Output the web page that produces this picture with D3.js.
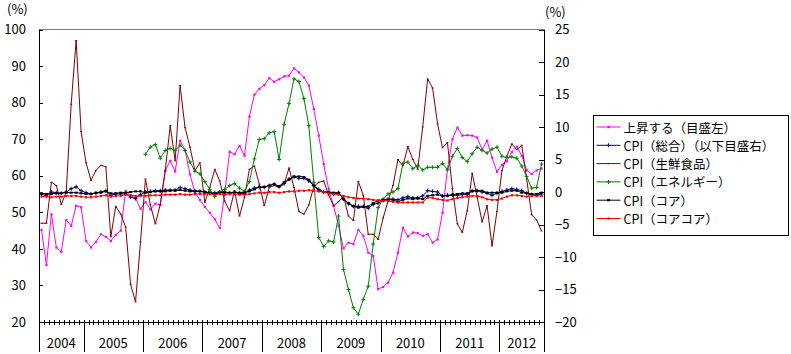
<!DOCTYPE html>
<html>
<head>
<meta charset="utf-8">
<script src="https://cdn.jsdelivr.net/npm/d3@7"></script>
<style>
  body { margin: 0; background: #fff; }
  text { font-family: "Noto Sans CJK JP", "Noto Sans", sans-serif; fill: #000; }
</style>
</head>
<body>
<div id="chart"></div>
<script>
// months: Apr 2004 .. Sep 2012
const months = d3.timeMonth.range(new Date(2004, 3, 1), new Date(2012, 9, 1));
const years = ["2004", "2005", "2006", "2007", "2008", "2009", "2010", "2011", "2012"];
const leftTicks = [20, 30, 40, 50, 60, 70, 80, 90, 100];
const rightTicks = [-20, -15, -10, -5, 0, 5, 10, 15, 20, 25];

// 上昇する (left axis, %)
const rising = [
  45.2, 35.6, 49.5, 40.4, 39.2, 47.9, 46.3, 51.8, 51.4,
  42.2, 40.4, 41.9, 44.0, 43.3, 42.2, 43.8, 45.0, 55.9, 54.7, 53.8, 51.0,
  52.8, 50.8, 52.4, 52.0, 61.4, 64.1, 61.2, 69.6, 67.0, 60.4, 55.4, 53.4,
  51.5, 49.9, 48.1, 45.7, 55.0, 66.6, 65.9, 68.2, 65.5, 76.2, 82.2, 83.8,
  84.8, 86.7, 85.7, 86.4, 87.2, 87.4, 89.4, 88.3, 86.9, 84.7, 78.3, 71.0,
  63.2, 56.4, 51.8, 46.3, 40.1, 41.7, 41.3, 45.2, 43.6, 39.0, 38.1, 29.0,
  29.6, 30.8, 33.5, 39.0, 45.8, 43.4, 44.5, 44.3, 43.6, 44.0, 41.7, 42.6,
  49.9, 61.8, 70.0, 73.2, 71.0, 71.1, 71.0, 70.5, 67.1, 69.6, 65.0, 61.1,
  63.0, 64.0, 66.5, 68.0, 65.5, 61.5, 60.5, 61.5, 62.0
];
// CPI 総合 (right axis)
const cpiAll = [
  -0.4, -0.5, 0.0, -0.1, -0.2, 0.0, 0.5, 0.8, 0.2,
  -0.1, -0.3, -0.2, 0.0, 0.2, -0.5, -0.3, -0.3, -0.3, -0.8, -1.0, -0.4,
  0.0, 0.1, 0.2, 0.2, 0.3, 0.3, 0.3, 0.7, 0.5, 0.3, 0.2, 0.1,
  0.0, -0.2, -0.1, 0.0, 0.0, -0.2, 0.0, -0.2, -0.2, 0.3, 0.6, 0.7,
  0.7, 1.0, 1.2, 0.8, 1.3, 2.0, 2.3, 2.1, 2.1, 1.7, 1.0, 0.4,
  0.0, -0.1, -0.3, -0.1, -1.1, -1.8, -2.2, -2.2, -2.2, -2.5, -1.9, -1.7,
  -1.3, -1.1, -1.1, -1.2, -0.9, -0.7, -0.9, -0.9, -0.6, 0.2, 0.1, 0.0,
  -0.6, -0.5, -0.5, -0.5, -0.4, -0.4, 0.2, 0.2, 0.0, -0.2, -0.5, -0.2,
  0.1, 0.3, 0.5, 0.4, 0.2, -0.2, -0.4, -0.5, -0.3
];
// CPI 生鮮食品
const cpiFresh = [
  -4.8, -4.8, 1.5, 1.0, -1.9, 0.0, 13.5, 23.3, 9.3,
  4.5, 1.8, 3.3, 4.1, 3.9, -6.9, -2.2, -3.4, -5.4, -14.2, -16.9, -7.7,
  2.0, -2.0, -4.9, -1.9, 3.3, 10.2, 4.8, 16.4, 9.9, 6.9, 3.3, 4.5,
  -1.6, 0.7, 3.5, 1.7, -1.4, -2.9, 0.2, -3.7, -0.8, 3.5, 4.0, 1.2,
  -2.1, 0.7, 1.0, 0.7, 1.2, 3.7, 0.7, -3.0, -3.4, -2.0, 0.8, 1.5,
  1.7, -0.5, -2.1, -1.5, -0.6, -3.7, -4.4, 1.6, -0.5, -6.5, -6.5, -7.3,
  -4.0, -1.4, 1.0, 5.0, 4.0, 7.0, 5.0, 3.5, 10.0, 17.4, 16.0, 10.5,
  6.8, 7.6, 0.5, -4.9, -6.2, -2.9, 2.9, -0.8, -4.6, -2.1, -8.3, -3.0,
  3.3, 5.5, 7.4, 6.5, 7.2, 2.0, -3.5, -4.3, -6.0
];
// CPI エネルギー (from Jan 2006)
const cpiEnergy = [
  null, null, null, null, null, null, null, null, null,
  null, null, null, null, null, null, null, null, null, null, null, null,
  5.8, 6.9, 7.3, 5.2, 6.4, 6.7, 6.4, 7.2, 6.4, 4.6, 3.2, 2.8,
  1.6, 0.4, -0.7, 0.0, 0.4, 1.0, 1.3, 0.6, 0.1, 1.6, 5.1, 8.1,
  8.2, 9.1, 9.3, 5.0, 10.4, 13.6, 17.4, 17.0, 14.4, 10.2, 1.5, -7.0,
  -8.4, -7.5, -7.7, -3.7, -11.9, -15.0, -17.8, -18.8, -16.5, -14.5, -8.0, -2.4,
  -1.1, -0.3, 0.0, 0.5, 4.4, 4.6, 3.6, 4.1, 3.4, 3.8, 3.8, 3.8,
  4.4, 3.4, 5.5, 6.7, 5.3, 4.7, 5.9, 6.9, 6.4, 6.0, 6.6, 6.9,
  5.5, 5.3, 5.4, 5.2, 4.0, 2.4, 0.6, 0.7, 4.3
];
// CPI コア
const cpiCore = [
  -0.2, -0.3, -0.3, -0.2, -0.2, -0.1, -0.1, -0.1, -0.2,
  -0.3, -0.3, -0.1, -0.1, 0.1, -0.2, -0.2, -0.1, -0.1, 0.0, 0.1, 0.1,
  -0.1, 0.0, 0.1, 0.1, 0.1, 0.2, 0.2, 0.3, 0.2, 0.1, 0.1, 0.1,
  0.0, -0.1, -0.3, -0.1, -0.1, -0.1, -0.1, -0.1, -0.1, 0.1, 0.4, 0.8,
  0.8, 1.0, 1.2, 0.9, 1.5, 1.9, 2.4, 2.4, 2.3, 1.9, 1.0, 0.2,
  0.0, 0.0, -0.1, -0.1, -1.1, -1.7, -2.2, -2.4, -2.3, -2.2, -1.7, -1.3,
  -1.2, -1.2, -1.2, -1.5, -1.2, -1.0, -1.1, -1.0, -1.1, -0.6, -0.5, -0.4,
  -0.6, -0.6, -0.4, -0.3, -0.2, -0.2, 0.1, 0.2, 0.2, -0.1, -0.1, -0.1,
  -0.1, 0.1, 0.2, 0.2, -0.1, -0.2, -0.3, -0.3, -0.1
];
// CPI コアコア
const cpiCoreCore = [
  -0.7, -0.7, -0.8, -0.7, -0.7, -0.6, -0.6, -0.6, -0.7,
  -0.8, -0.8, -0.7, -0.6, -0.5, -0.7, -0.6, -0.6, -0.4, -0.5, -0.6, -0.6,
  -0.6, -0.5, -0.5, -0.5, -0.4, -0.4, -0.4, -0.3, -0.4, -0.4, -0.3, -0.3,
  -0.3, -0.3, -0.4, -0.3, -0.4, -0.3, -0.3, -0.4, -0.4, -0.3, -0.2, -0.1,
  -0.1, 0.0, 0.0, -0.1, 0.0, 0.1, 0.1, 0.2, 0.2, 0.3, 0.2, 0.1,
  0.0, -0.2, -0.3, -0.4, -0.6, -0.8, -0.9, -1.0, -1.0, -1.1, -1.2, -1.3,
  -1.35, -1.4, -1.5, -1.6, -1.6, -1.6, -1.6, -1.6, -1.6, -0.85, -0.9, -1.1,
  -1.2, -1.3, -1.1, -0.9, -0.8, -0.7, -0.6, -0.6, -0.8, -1.1, -1.2, -1.2,
  -1.0, -0.7, -0.5, -0.5, -0.6, -0.7, -0.6, -0.6, -0.6
];

const labels = ["上昇する（目盛左）", "CPI（総合）（以下目盛右）", "CPI（生鮮食品）",
                "CPI（エネルギー）", "CPI（コア）", "CPI（コアコア）"];
const colors = ["#ff00ff", "#000080", "#800000", "#008000", "#000000", "#ff0000"];
const markers = ["square", "plus", "dot", "plus", "dash", "square"];

const series = [
  { values: rising, axis: "left" },
  { values: cpiAll, axis: "right" },
  { values: cpiFresh, axis: "right" },
  { values: cpiEnergy, axis: "right" },
  { values: cpiCore, axis: "right" },
  { values: cpiCoreCore, axis: "right" }
];

let svg = d3.select("#chart")
  .append("svg")
  .attr("width", 791)
  .attr("height", 354);

const plotLeft = 39, plotRight = 544, plotTop = 29.5, plotBottom = 322;

const x = d3.scaleBand()
  .domain(d3.range(months.length))
  .range([plotLeft, plotRight])
  .paddingInner(0).paddingOuter(0);
const xc = i => x(i) + x.bandwidth() / 2;

const yL = d3.scaleLinear().domain([20, 100]).range([plotBottom, plotTop]);
const yR = d3.scaleLinear().domain([-20, 25]).range([plotBottom, plotTop]);

// top frame line
svg.append("line")
  .attr("x1", plotLeft).attr("x2", plotRight)
  .attr("y1", plotTop).attr("y2", plotTop)
  .attr("stroke", "#808080")
  .attr("shape-rendering", "crispEdges");

// left axis
svg.append("g")
  .attr("transform", "translate(" + plotLeft + ",0)")
  .call(d3.axisLeft(yL).tickValues(leftTicks).tickSizeInner(-4).tickSizeOuter(0).tickPadding(13))
  .call(g => g.select(".domain").remove())
  .call(g => g.selectAll(".tick line").attr("stroke", "#000").attr("shape-rendering", "crispEdges"))
  .call(g => g.selectAll(".tick text").style("font-size", "13px")
    .style("font-family", "'Noto Sans CJK JP', sans-serif"));

// right axis
svg.append("g")
  .attr("transform", "translate(" + plotRight + ",0)")
  .call(d3.axisRight(yR).tickValues(rightTicks).tickSizeInner(-5).tickSizeOuter(0).tickPadding(11))
  .call(g => g.select(".domain").remove())
  .call(g => g.selectAll(".tick line").attr("stroke", "#000").attr("shape-rendering", "crispEdges"))
  .call(g => g.selectAll(".tick text").style("font-size", "13px")
    .style("font-family", "'Noto Sans CJK JP', sans-serif"));

// vertical axis lines, the left one running down through the year band
svg.append("line")
  .attr("x1", plotLeft + 0.5).attr("x2", plotLeft + 0.5)
  .attr("y1", plotTop).attr("y2", 352)
  .attr("stroke", "#000");
svg.append("line")
  .attr("x1", plotRight + 0.5).attr("x2", plotRight + 0.5)
  .attr("y1", plotTop).attr("y2", plotBottom)
  .attr("stroke", "#000");

// units
svg.append("text").attr("x", 7).attr("y", 14).style("font-size", "13px").text("(%)");
svg.append("text").attr("x", 545).attr("y", 17).style("font-size", "13px").text("(%)");

// category axis
svg.append("line")
  .attr("x1", plotLeft).attr("x2", plotRight)
  .attr("y1", plotBottom + 0.5).attr("y2", plotBottom + 0.5)
  .attr("stroke", "#000");

const edges = d3.range(months.length + 1);
const xEdge = i => i < months.length ? x(i) : plotRight;
svg.append("g")
  .selectAll("line")
  .data(edges)
  .join("line")
  .attr("x1", d => Math.round(xEdge(d)) + 0.5)
  .attr("x2", d => Math.round(xEdge(d)) + 0.5)
  .attr("y1", plotBottom - 2)
  .attr("y2", plotBottom + 3)
  .attr("stroke", "#000");

// year separators and labels
const yearStart = years.map(yr => months.findIndex(m => m.getFullYear() === +yr));
const yearEnd = yearStart.map((s, k) => k < yearStart.length - 1 ? yearStart[k + 1] : months.length);

svg.append("g")
  .selectAll("line")
  .data(yearStart.slice(1).concat([months.length]))
  .join("line")
  .attr("x1", d => Math.round(xEdge(d)) + 0.5)
  .attr("x2", d => Math.round(xEdge(d)) + 0.5)
  .attr("y1", plotBottom)
  .attr("y2", 352)
  .attr("stroke", "#000");

svg.append("g")
  .selectAll("text")
  .data(years)
  .join("text")
  .attr("x", (d, k) => (xEdge(yearStart[k]) + xEdge(yearEnd[k])) / 2)
  .attr("y", 348)
  .attr("text-anchor", "middle")
  .style("font-size", "13px")
  .text(d => d);

// marker drawing
function drawMarker(g, type, color) {
  if (type === "square") {
    g.append("rect").attr("x", -1).attr("y", -1).attr("width", 2.2).attr("height", 2.2).attr("fill", color);
  } else if (type === "plus") {
    g.append("path").attr("d", "M-2,0H2M0,-2V2").attr("stroke", color).attr("stroke-width", 1);
  } else if (type === "dash") {
    g.append("rect").attr("x", -1.5).attr("y", -1).attr("width", 3).attr("height", 2).attr("fill", color);
  } else {
    g.append("rect").attr("x", -1).attr("y", -0.5).attr("width", 2).attr("height", 1).attr("fill", color);
  }
}

// series lines
series.forEach((s, k) => {
  const yS = s.axis === "left" ? yL : yR;
  const line = d3.line()
    .defined(d => d != null)
    .x((d, i) => xc(i))
    .y(d => yS(d));

  const g = svg.append("g").attr("class", "series");
  g.append("path")
    .datum(s.values)
    .attr("d", line)
    .attr("fill", "none")
    .attr("stroke", colors[k])
    .attr("stroke-width", 1);

  g.selectAll("g.mk")
    .data(s.values.map((v, i) => ({ v, i })).filter(d => d.v != null))
    .join("g")
    .attr("class", "mk")
    .attr("transform", d => "translate(" + xc(d.i) + "," + yS(d.v) + ")")
    .each(function () { drawMarker(d3.select(this), markers[k], colors[k]); });
});

// legend
const legend = svg.append("g").attr("transform", "translate(593.5,115.5)");
legend.append("rect")
  .attr("width", 195).attr("height", 120)
  .attr("fill", "#fff").attr("stroke", "#000");

labels.forEach((lab, k) => {
  const yy = 11.5 + k * 18.3;
  legend.append("line")
    .attr("x1", 3).attr("x2", 27)
    .attr("y1", yy).attr("y2", yy)
    .attr("stroke", colors[k]);
  const mg = legend.append("g").attr("transform", "translate(15," + yy + ")");
  drawMarker(mg, markers[k], colors[k]);
  legend.append("text")
    .attr("x", 30).attr("y", yy)
    .attr("dominant-baseline", "central")
    .style("font-size", "12.5px")
    .text(lab);
});
</script>
</body>
</html>
